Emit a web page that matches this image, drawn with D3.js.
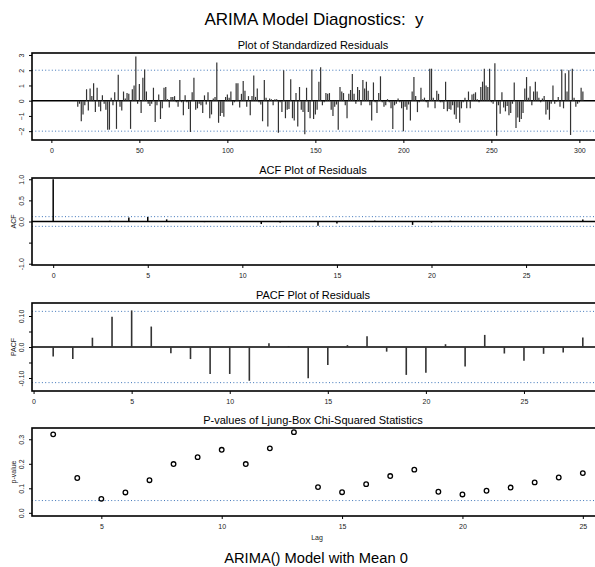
<!DOCTYPE html>
<html>
<head>
<meta charset="utf-8">
<script src="https://cdn.jsdelivr.net/npm/d3@7/dist/d3.min.js"></script>
<style>
body { margin: 0; background: #fff; }
text { font-family: "Liberation Sans", Arial, sans-serif; }
</style>
</head>
<body>
<script>
// standardized residuals, first value is at index residStart
var residStart = 15;
var residuals = [
	-0.4, -0.2, -1.35, -0.9, -0.3, 0.75, -0.65, 0.8, 0.3, 1.15,
	-0.75, 0.85, -0.4, -0.7, 0.35, -0.2, -0.6, -1.9, -1.9, 0.2,
	-0.3, 0.55, -1.85, 1.7, -0.4, -0.65, 0.6, 0.15, 0.5, 0.45,
	-1.85, 0.75, 1.0, 2.9, -0.2, 1.1, -0.8, 1.5, 2.05, 0.6,
	-0.2, -0.35, -0.2, 0.85, -1.4, -0.3, 0.4, -1.2, -0.5, 0.85,
	0.9, 0.1, -0.45, 0.25, 0.25, 0.3, -0.1, -0.4, 1.35, -0.1,
	-0.95, 0.35, -0.1, -0.55, -2.05, 0.55, 1.5, -0.6, -0.5, -0.2,
	-0.3, -0.8, 0.35, -0.25, 0.55, -1.15, -0.9, 0.15, 0.25, 2.5,
	-1.45, -1.0, -0.8, -1.05, 0.25, 0.4, 0.2, 0.6, -0.3, -0.1,
	1.15, 1.15, -0.45, 0.45, 1.3, 0.65, -0.4, 0.3, -0.95, 0.3,
	1.65, 0.25, 0.8, -0.1, -0.25, -1.35, 1.35, 0.2, -1.7, 0.15,
	0.1, -0.3, 0.1, 0.1, -2.1, -0.1, -0.75, 2.0, -1.15, -0.6,
	-0.55, 1.4, -1.15, -1.3, 0.5, -1.7, 0.9, -0.6, -0.75, -2.2,
	0.85, -0.75, -1.15, 2.05, -1.2, -0.9, -0.6, 1.25, 2.2, -0.3,
	-0.1, 0.5, 0.45, 0.5, -0.6, -1.0, -0.4, -0.25, -1.9, 0.9,
	0.6, 0.5, -0.3, -1.15, 0.45, 0.7, 1.75, 0.45, -0.2, 0.9,
	0.7, -0.3, 1.35, 0.8, 1.25, 0.65, -0.3, -1.3, 1.2, -0.1,
	-0.8, 0.5, 1.6, -0.1, -0.4, -0.3, 0.1, -0.1, -0.5, -1.85,
	-0.3, -0.2, 0.15, -0.1, -0.5, -2.0, -0.4, -0.6, -0.25, -1.3,
	0.6, 1.55, 0.3, -0.75, -0.1, 0.85, 0.1, 0.2, -0.1, -0.45,
	2.1, 2.1, 0.2, -0.5, 0.65, 0.45, -0.1, -0.1, -0.55, 1.25,
	-0.7, -0.55, -0.6, -0.3, -0.9, -1.2, -0.45, -1.45, -0.5, -0.1,
	0.2, -0.5, 0.6, -0.5, 0.4, 0.45, 0.55, 0.1, -0.1, 0.9,
	1.25, 2.1, 1.0, 0.9, 2.1, -0.1, -0.2, 2.45, -2.3, -0.3,
	-0.85, 0.55, -0.45, -0.7, -0.35, -0.95, -0.8, -0.2, 1.2, -1.8,
	-1.1, -1.4, -1.2, -0.8, 0.8, 1.55, 0.2, 0.95, -0.3, 0.6,
	1.25, 0.6, 0.2, -0.1, 0.15, 0.3, -0.9, -0.6, -1.25, -0.2,
	1.0, -0.2, -0.05, 0.25, -0.4, 2.05, -0.5, 1.8, 0.6, 2.0,
	-2.25, 2.1, 0.2, -0.4, -0.2, -0.1, 0.85, 0.6
];

// ACF, lags 0..28
var acf = [1, 0.005, 0.01, 0.015, 0.095, 0.105, 0.05, 0.01, -0.015, 0.01,
	-0.01, -0.06, -0.025, 0.01, -0.1, -0.05, 0.01, 0.02, -0.01, -0.08,
	-0.025, 0.02, -0.01, 0.01, -0.01, 0.01, 0.01, -0.01, 0.045];

// PACF, lags 1..28
var pacf = [-0.031, -0.039, 0.030, 0.098, 0.118, 0.066, -0.020, -0.039, -0.087, -0.087,
	-0.109, 0.012, 0.003, -0.101, -0.058, 0.006, 0.035, -0.015, -0.090, -0.083,
	0.009, -0.063, 0.039, -0.021, -0.044, -0.022, -0.018, 0.031];

// Ljung-Box p-values, lags 3..25
var pvalLags = [3, 4, 5, 6, 7, 8, 9, 10, 11, 12, 13, 14, 15, 16, 17, 18, 19, 20, 21, 22, 23, 24, 25];
var pvalues = [0.320, 0.142, 0.057, 0.083, 0.133, 0.199, 0.227, 0.257, 0.199, 0.263, 0.329, 0.105,
	0.084, 0.117, 0.150, 0.176, 0.086, 0.075, 0.090, 0.103, 0.124, 0.144, 0.162];

var residTicksX = [0, 50, 100, 150, 200, 250, 300];
var residTicksY = [-2, -1, 0, 1, 2, 3];
var lagTicks = [0, 5, 10, 15, 20, 25];
var acfTicksY = [-1, -0.5, 0, 0.5, 1];
var acfLabels = {"-1": "-1.0", "0": "0.0", "0.5": "0.5", "1": "1.0"};
var pacfTicksY = [-0.1, -0.05, 0, 0.05, 0.1];
var pacfLabels = {"-0.1": "-0.10", "0": "0.0", "0.1": "0.10"};
var pvalTicksX = [5, 10, 15, 20, 25];
var pvalTicksY = [0, 0.1, 0.2, 0.3];

var confBand = 0.115;
var pvalLimit = 0.05;

var w = 595;
var h = 567;
var left = 32;
var right = 604;

var svg = d3.select("body")
	.append("svg")
	.attr("width", w)
	.attr("height", h);

svg.append("text")
	.attr("x", 314)
	.attr("y", 25)
	.attr("text-anchor", "middle")
	.style("font-size", "17px")
	.style("white-space", "pre")
	.text("ARIMA Model Diagnostics:  y");

svg.append("text")
	.attr("x", 316)
	.attr("y", 563)
	.attr("text-anchor", "middle")
	.style("font-size", "14.7px")
	.text("ARIMA() Model with Mean 0");

function panel(cfg) {
	var x = d3.scaleLinear().domain(cfg.xDomain).range([left, right]);
	var y = d3.scaleLinear().domain(cfg.yDomain).range([cfg.bottom, cfg.top]);
	var g = svg.append("g");

	g.append("text")
		.attr("x", 313)
		.attr("y", cfg.top - 4)
		.attr("text-anchor", "middle")
		.style("font-size", "11px")
		.text(cfg.title);

	//x axis
	var xa = g.append("g")
		.attr("transform", "translate(0," + cfg.bottom + ")")
		.call(d3.axisBottom(x).tickValues(cfg.xTicks).tickSize(3).tickPadding(5));
	xa.select(".domain").remove();
	xa.selectAll("text").style("font-size", "7px").attr("fill", "#222");

	//y axis, labels turned like R does
	var ya = g.append("g")
		.attr("transform", "translate(" + left + ",0)")
		.call(d3.axisLeft(y).tickValues(cfg.yTicks).tickSize(3).tickFormat(cfg.yFormat));
	ya.select(".domain").remove();
	ya.selectAll("text")
		.attr("transform", "rotate(-90)")
		.attr("x", 0)
		.attr("y", -8)
		.attr("dy", 0)
		.attr("text-anchor", "middle")
		.attr("fill", "#222")
		.style("font-size", "7px");

	if (cfg.yLabel) {
		g.append("text")
			.attr("transform", "translate(16," + ((cfg.top + cfg.bottom) / 2) + ") rotate(-90)")
			.attr("text-anchor", "middle")
			.attr("fill", "#222")
			.style("font-size", "7px")
			.text(cfg.yLabel);
	}

	//reference lines
	cfg.dotted.forEach(function(v) {
		g.append("line")
			.attr("x1", left).attr("x2", right)
			.attr("y1", y(v)).attr("y2", y(v))
			.attr("stroke", "#3d74b8")
			.attr("stroke-width", 1)
			.attr("stroke-dasharray", "1,2.3");
	});

	if (cfg.zero) {
		g.append("line")
			.attr("x1", left).attr("x2", right)
			.attr("y1", y(0)).attr("y2", y(0))
			.attr("stroke", "#000")
			.attr("stroke-width", 1.5);
	}

	g.append("rect")
		.attr("x", left)
		.attr("y", cfg.top)
		.attr("width", right - left)
		.attr("height", cfg.bottom - cfg.top)
		.attr("fill", "none")
		.attr("stroke", "#000")
		.attr("stroke-width", 1.6);

	return {g: g, x: x, y: y};
}

// standardized residuals
var p1 = panel({
	title: "Plot of Standardized Residuals",
	top: 53, bottom: 140,
	xDomain: [-11, 314], yDomain: [-2.58, 3.13],
	xTicks: residTicksX, yTicks: residTicksY,
	yFormat: d3.format("d"),
	dotted: [-2, 2], zero: true
});
p1.g.selectAll("line.bar")
	.data(residuals)
	.enter()
	.append("line")
	.attr("class", "bar")
	.attr("x1", function(d, i) { return p1.x(residStart + i); })
	.attr("x2", function(d, i) { return p1.x(residStart + i); })
	.attr("y1", p1.y(0))
	.attr("y2", function(d) { return p1.y(d); })
	.attr("stroke", "#333")
	.attr("stroke-width", 1.2);

// ACF
var p2 = panel({
	title: "ACF Plot of Residuals",
	top: 178, bottom: 265,
	xDomain: [-1.12, 29.12], yDomain: [-1.03, 1.03],
	xTicks: lagTicks, yTicks: acfTicksY,
	yFormat: function(d) { return acfLabels[String(d)] || ""; },
	yLabel: "ACF",
	dotted: [-confBand, confBand], zero: true
});
p2.g.selectAll("line.bar")
	.data(acf)
	.enter()
	.append("line")
	.attr("class", "bar")
	.attr("x1", function(d, i) { return p2.x(i); })
	.attr("x2", function(d, i) { return p2.x(i); })
	.attr("y1", p2.y(0))
	.attr("y2", function(d) { return p2.y(d); })
	.attr("stroke", "#000")
	.attr("stroke-width", 1.5);

// PACF
var p3 = panel({
	title: "PACF Plot of Residuals",
	top: 303, bottom: 391,
	xDomain: [-0.08, 29.08], yDomain: [-0.142, 0.142],
	xTicks: lagTicks, yTicks: pacfTicksY,
	yFormat: function(d) { return pacfLabels[String(d)] || ""; },
	yLabel: "PACF",
	dotted: [-confBand, confBand], zero: true
});
p3.g.selectAll("line.bar")
	.data(pacf)
	.enter()
	.append("line")
	.attr("class", "bar")
	.attr("x1", function(d, i) { return p3.x(i + 1); })
	.attr("x2", function(d, i) { return p3.x(i + 1); })
	.attr("y1", p3.y(0))
	.attr("y2", function(d) { return p3.y(d); })
	.attr("stroke", "#333")
	.attr("stroke-width", 1.6);

// Ljung-Box p-values
var p4 = panel({
	title: "P-values of Ljung-Box Chi-Squared Statistics",
	top: 428, bottom: 516,
	xDomain: [2.12, 25.88], yDomain: [-0.013, 0.346],
	xTicks: pvalTicksX, yTicks: pvalTicksY,
	yFormat: d3.format(".1f"),
	yLabel: "p-value",
	dotted: [pvalLimit], zero: false
});
p4.g.selectAll("circle")
	.data(pvalues)
	.enter()
	.append("circle")
	.attr("cx", function(d, i) { return p4.x(pvalLags[i]); })
	.attr("cy", function(d) { return p4.y(d); })
	.attr("r", 2.3)
	.attr("fill", "none")
	.attr("stroke", "#000")
	.attr("stroke-width", 1.3);

svg.append("text")
	.attr("x", 317)
	.attr("y", 540)
	.attr("text-anchor", "middle")
	.attr("fill", "#222")
	.style("font-size", "7px")
	.text("Lag");
</script>
</body>
</html>
